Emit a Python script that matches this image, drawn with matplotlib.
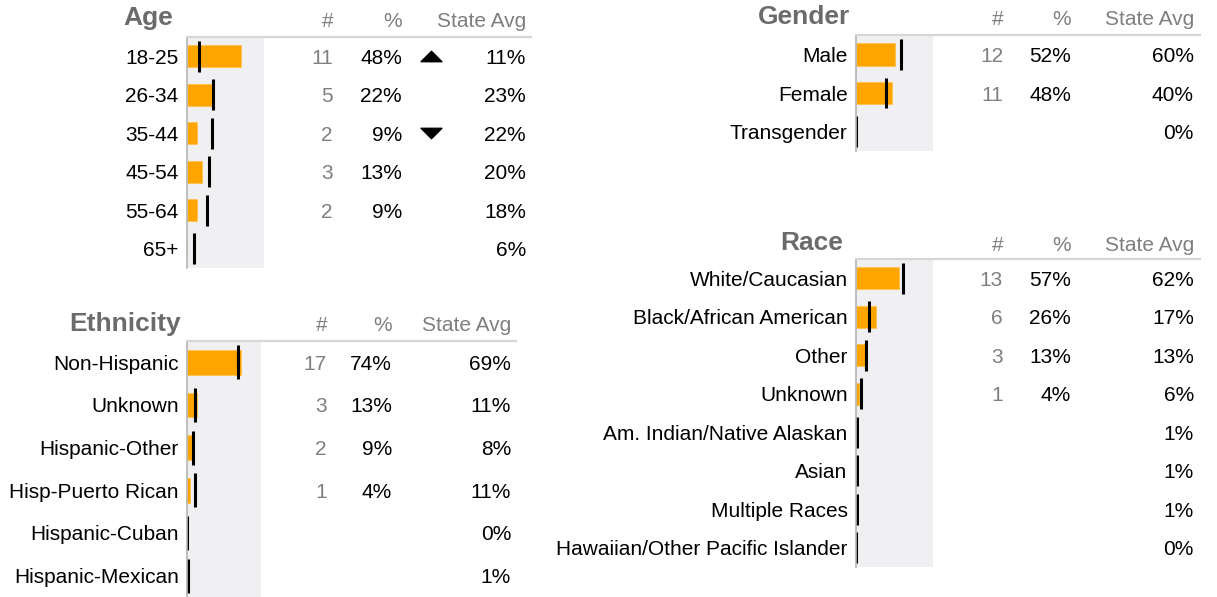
import matplotlib
matplotlib.use("Agg")
import matplotlib.pyplot as plt
import numpy as np
from matplotlib.path import Path
from matplotlib.transforms import blended_transform_factory

plt.rcParams['font.family'] = ['Liberation Sans', 'DejaVu Sans']

W, H = 1217, 597

# data
age_cats = ["18-25", "26-34", "35-44", "45-54", "55-64", "65+"]
age_counts = [11, 5, 2, 3, 2, 0]
age_pcts = [48, 22, 9, 13, 9, 0]
age_state = [11, 23, 22, 20, 18, 6]
age_flags = [1, 0, -1, 0, 0, 0]

eth_cats = ["Non-Hispanic", "Unknown", "Hispanic-Other", "Hisp-Puerto Rican",
            "Hispanic-Cuban", "Hispanic-Mexican"]
eth_counts = [17, 3, 2, 1, 0, 0]
eth_pcts = [74, 13, 9, 4, 0, 0]
eth_state = [69, 11, 8, 11, 0, 1]

gen_cats = ["Male", "Female", "Transgender"]
gen_counts = [12, 11, 0]
gen_pcts = [52, 48, 0]
gen_state = [60, 40, 0]

race_cats = ["White/Caucasian", "Black/African American", "Other", "Unknown",
             "Am. Indian/Native Alaskan", "Asian", "Multiple Races",
             "Hawaiian/Other Pacific Islander"]
race_counts = [13, 6, 3, 1, 0, 0, 0, 0]
race_pcts = [57, 26, 13, 4, 0, 0, 0, 0]
race_state = [62, 17, 13, 6, 1, 1, 1, 0]

fig = plt.figure(figsize=(W / 100, H / 100), dpi=100)

GRAY_TXT = '#7f7f7f'
TITLE_C = '#6b6b6b'
FS = 15

# triangle marker, wider than tall
tri_up = Path([(-1, -0.5), (1, -0.5), (0, 0.5), (-1, -0.5)],
              [Path.MOVETO, Path.LINETO, Path.LINETO, Path.CLOSEPOLY])
tri_down = Path([(-1, 0.5), (1, 0.5), (0, -0.5), (-1, 0.5)],
                [Path.MOVETO, Path.LINETO, Path.LINETO, Path.CLOSEPOLY])


def panel(title, cats, counts, pcts, state, box, xmax, cols, title_at,
          head_base, line_right, flags=None, tri_x=None):
    x0, y0, x1, y1 = box
    ax = fig.add_axes([x0 / W, 1 - y1 / H, (x1 - x0) / W, (y1 - y0) / H])
    ax.set_facecolor('#f0f0f2')
    n = len(cats)
    y = np.arange(n)
    ax.barh(y, pcts, height=0.58, color='#ffa500', edgecolor='#ffc04d', lw=0.6)
    ax.vlines(state, y - 0.4, y + 0.4, color='black', lw=2.2)
    ax.set_xlim(0, xmax)
    ax.set_ylim(n - 0.5, -0.5)
    for s in ['top', 'right', 'bottom']:
        ax.spines[s].set_visible(False)
    ax.spines['left'].set_color('#b5b5b5')
    ax.spines['left'].set_linewidth(1.2)
    ax.set_xticks([])
    ax.set_yticks(y, cats)
    ax.tick_params(axis='y', length=0, pad=6, labelsize=FS)

    tr = blended_transform_factory(fig.transFigure, ax.transData)
    cx, px, sx = cols
    for i in range(n):
        if counts[i]:
            ax.text(cx / W, i, str(counts[i]), ha='right', va='center_baseline',
                    color=GRAY_TXT, fontsize=FS, transform=tr)
            ax.text(px / W, i, f"{pcts[i]}%", ha='right', va='center_baseline',
                    color='black', fontsize=FS, transform=tr)
        ax.text(sx / W, i, f"{state[i]}%", ha='right', va='center_baseline',
                color='black', fontsize=FS, transform=tr)
        if flags is not None and flags[i] != 0:
            ax.plot([tri_x / W], [i], marker=tri_up if flags[i] > 0 else tri_down,
                    markersize=15, color='black', transform=tr, clip_on=False)

    # title and column headers
    tx, tb = title_at
    fig.text(tx / W, 1 - tb / H, title, ha='right', va='baseline',
             fontsize=19, fontweight='bold', color=TITLE_C)
    for xx, lab in zip(cols, ['#', '%', 'State Avg']):
        fig.text(xx / W, 1 - head_base / H, lab, ha='right', va='baseline',
                 fontsize=FS, color=GRAY_TXT)
    fig.add_artist(plt.Line2D([x0 / W, line_right / W], [1 - y0 / H, 1 - y0 / H],
                              transform=fig.transFigure, color='#d6d6d6', lw=1.6))
    return ax


panel("Age", age_cats, age_counts, age_pcts, age_state,
      (187, 37, 264, 268), 69, (333, 402, 526), (173, 25.5), 27, 531,
      flags=age_flags, tri_x=431)

panel("Ethnicity", eth_cats, eth_counts, eth_pcts, eth_state,
      (187, 341, 261, 597), 101, (327, 392, 511), (181, 331), 331, 516)

panel("Gender", gen_cats, gen_counts, gen_pcts, gen_state,
      (856, 35, 933, 151), 102, (1003, 1071, 1194), (850, 24), 25, 1200)

panel("Race", race_cats, race_counts, race_pcts, race_state,
      (856, 259, 933, 567), 102, (1003, 1071, 1194), (843, 250), 251, 1200)

fig.savefig("out.png", dpi=100, facecolor='white')
